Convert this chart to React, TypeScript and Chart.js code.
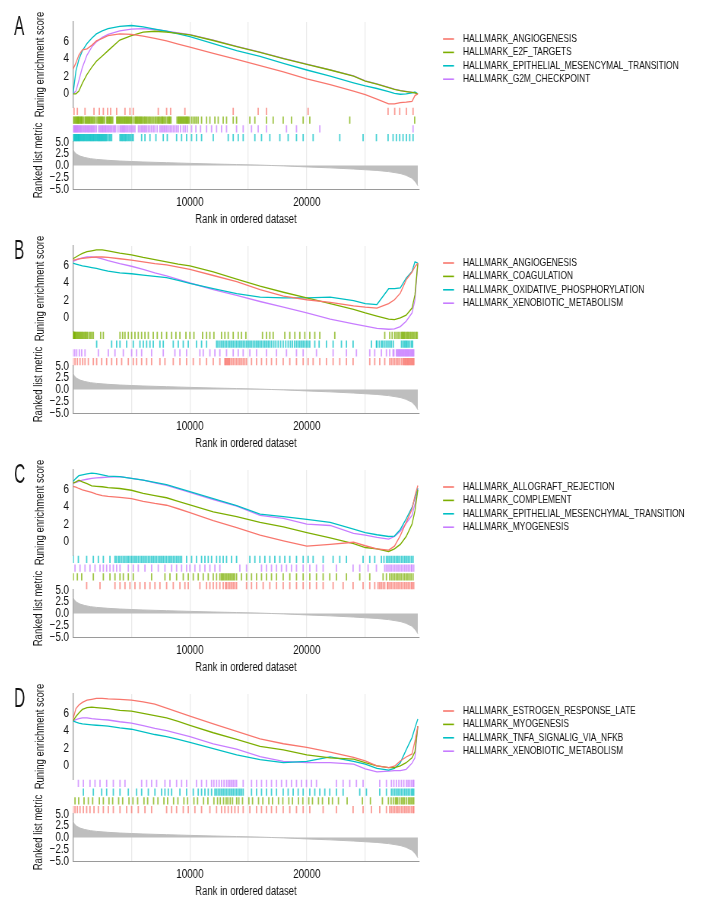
import React, { useEffect, useRef } from 'react';
import { Chart, registerables } from 'chart.js';

Chart.register(...registerables);

// The reference uses a condensed typeface; the canvas is drawn wider and shown squeezed.
const FONT = '"Liberation Sans", Arial, sans-serif';
Chart.defaults.font.family = FONT;
Chart.defaults.color = '#222';

const VIEW_W = 704;
const VIEW_H = 224;
const LOGICAL_W = 926;
const SQ = VIEW_W / LOGICAL_W;
const L = (px: number) => px / SQ; // actual px -> logical px

const RED = '#F8766D';
const GREEN = '#7CAE00';
const CYAN = '#00BFC4';
const PURPLE = '#C77CFF';

const X_MAX = 29600;
const X_GRID = [5000, 10000, 15000, 20000, 25000];
const X_TICKS = [10000, 20000];
const ES_TICKS = [0, 2, 4, 6];
const METRIC_TICKS = [5, 2.5, 0, -2.5, -5];

const ES_RANKS = [0, 250, 500, 800, 1200, 1600, 2000, 2500, 3000, 4000, 5000, 6000, 7000, 8000, 9000, 10000, 12000, 14000, 16000, 18000, 20000, 22000, 24000, 25000, 26000, 27000, 27500, 28000, 28500, 29000, 29250, 29500];

const METRIC_RANKS = [0, 100, 300, 600, 1000, 1500, 2000, 3000, 4000, 5000, 6000, 8000, 10000, 12000, 14000, 16000, 17000, 18000, 20000, 22000, 24000, 25000, 26000, 27000, 28000, 28500, 29000, 29300, 29500];
const METRIC_VALUES = [3.4, 2.9, 2.4, 2.0, 1.7, 1.45, 1.3, 1.1, 0.95, 0.85, 0.75, 0.6, 0.45, 0.32, 0.2, 0.08, 0.0, -0.08, -0.3, -0.5, -0.75, -0.9, -1.05, -1.3, -1.7, -2.1, -2.7, -3.5, -4.3];

// ---------- Panel A ----------
const A_NAMES = ['HALLMARK_ANGIOGENESIS', 'HALLMARK_E2F_TARGETS', 'HALLMARK_EPITHELIAL_MESENCYMAL_TRANSITION', 'HALLMARK_G2M_CHECKPOINT'];
const A_ES_1 = [2.8, 3.5, 4.4, 5.0, 5.1, 5.5, 6.0, 6.3, 6.6, 6.8, 6.75, 6.55, 6.3, 6.0, 5.65, 5.3, 4.6, 3.9, 3.2, 2.5, 1.7, 1.05, 0.3, -0.1, -0.6, -1.15, -1.15, -1.0, -0.95, -0.85, -0.2, 0.0];
const A_ES_2 = [0, 0, 0.3, 1.2, 2.2, 3.0, 3.7, 4.3, 4.9, 6.1, 6.6, 7.0, 7.1, 7.0, 6.85, 6.7, 6.05, 5.35, 4.7, 4.0, 3.35, 2.7, 2.0, 1.45, 1.1, 0.7, 0.5, 0.35, 0.25, 0.15, 0.1, 0];
const A_ES_3 = [0, 2.6, 3.9, 4.9, 5.7, 6.3, 6.8, 7.15, 7.4, 7.65, 7.75, 7.6, 7.35, 7.1, 6.8, 6.5, 5.7, 4.9, 4.25, 3.45, 2.7, 2.0, 1.25, 0.9, 0.6, 0.25, 0.05, -0.05, 0, 0.1, 0.2, 0];
const A_ES_4 = [0, 0.3, 1.5, 3.0, 4.4, 5.3, 5.9, 6.4, 6.75, 7.15, 7.35, 7.4, 7.3, 7.1, 6.9, 6.72, 6.08, 5.38, 4.72, 4.03, 3.38, 2.72, 2.03, 1.47, 1.12, 0.72, 0.52, 0.37, 0.27, 0.17, 0.1, 0];
const A_HITS_1 = [86, 371, 1026, 1795, 2251, 2593, 2964, 3220, 3733, 4445, 4872, 5157, 7293, 8006, 8348, 9573, 13704, 15840, 16553, 20114, 26952, 27522, 27949, 28519, 29089];
const A_HITS_2 = [86, 171, 314, 428, 542, 684, 798, 1026, 1169, 1311, 1453, 1624, 1795, 2166, 2308, 2451, 2593, 2878, 3020, 3163, 3305, 3733, 3875, 4018, 4160, 4302, 4445, 4587, 4730, 4872, 5015, 5300, 5442, 5584, 5727, 5869, 6069, 6240, 6439, 6639, 6867, 7208, 7379, 7579, 7721, 7921, 8149, 8291, 9003, 9146, 9288, 9431, 9573, 9716, 9858, 10143, 10428, 10713, 10998, 11425, 11710, 12137, 12422, 12849, 13134, 13704, 13989, 15129, 15556, 16553, 17123, 17978, 18690, 19687, 20257, 23676, 29231,
  40, 250, 370, 480, 620, 740, 900, 1100, 1240, 1380, 1540, 1700, 1900, 2050, 2230, 2380, 2520, 2700, 2950, 3100, 3240, 3400, 3800, 3950, 4090, 4230, 4380, 4520, 4660, 4800, 4950, 5150, 5370, 5510, 5660, 5800, 5960, 6150, 6330, 6540, 6750, 7000, 7100, 7300, 7480, 7650, 7820, 8050, 8220, 8380, 8900, 9070, 9220, 9360, 9500, 9650, 9790, 9950, 10280, 10560];
const A_HITS_3 = [29, 143, 257, 371, 485, 599, 741, 884, 1026, 1169, 1311, 1453, 1596, 1738, 1881, 2023, 2166, 2308, 2451, 2593, 2735, 2878, 3106, 3305, 4018, 4188, 4359, 4530, 4730, 4929, 5157, 5869, 6154, 6582, 7094, 7721, 8063, 8861, 9288, 9716, 10143, 10570, 10998, 11995, 13277, 13704, 14131, 14559, 15556, 16126, 16838, 17693, 18405, 19117, 19687, 20542, 22821, 24815, 25955, 26952, 27380, 27665, 27949, 28234, 28519, 28804, 29089,
  80, 200, 310, 430, 540, 660, 800, 950, 1100, 1240, 1380, 1520, 1660, 1800, 1950, 2100, 2240, 2380, 2520, 2660, 2800, 2990, 3200, 4100, 4270, 4450, 4630, 4830, 5050];
const A_HITS_4 = [29, 143, 257, 371, 513, 656, 827, 998, 1169, 1339, 1510, 1681, 1881, 2308, 2479, 2650, 2821, 3020, 3220, 3448, 3647, 4018, 4217, 4388, 4587, 4815, 5043, 5300, 5727, 5955, 6183, 6439, 6724, 7009, 7436, 7664, 7892, 8149, 8434, 8718, 9003, 9431, 9772, 10143, 10513, 10912, 11425, 11852, 12280, 12707, 13134, 13989, 14559, 15271, 15841, 16553, 18263, 19117, 21112, 29089,
  80, 200, 320, 440, 580, 720, 900, 1080, 1250, 1420, 1600, 1780, 2000, 2200, 2400, 2560, 2740, 2920, 3120, 3330, 3550, 3850, 4120, 4300, 4480, 4700, 4930, 5170, 5600, 5850, 6080, 6300, 6580, 6880, 7200, 7550, 7780, 8020, 8300, 8580, 8860, 9200, 9600];
const A_RUG_ORDER = [0, 1, 3, 2];

// ---------- Panel B ----------
const B_NAMES = ['HALLMARK_ANGIOGENESIS', 'HALLMARK_COAGULATION', 'HALLMARK_OXIDATIVE_PHOSPHORYLATION', 'HALLMARK_XENOBIOTIC_METABOLISM'];
const B_ES_1 = [6.55, 6.6, 6.7, 6.75, 6.8, 6.85, 6.9, 6.9, 6.85, 6.7, 6.55, 6.35, 6.15, 6.0, 5.75, 5.5, 4.8, 4.1, 3.2, 2.45, 2.05, 1.75, 1.35, 1.2, 1.1, 1.6, 2.05, 2.8, 4.3, 5.2, 5.8, 6.2];
const B_ES_2 = [6.7, 6.9, 7.1, 7.3, 7.5, 7.6, 7.7, 7.7, 7.6, 7.35, 7.15, 6.85, 6.6, 6.35, 6.1, 5.9, 5.2, 4.4, 3.6, 2.9, 2.25, 1.6, 0.95, 0.55, 0.2, -0.15, -0.2, 0.0, 0.3, 1.1, 2.6, 6.2];
const B_ES_3 = [6.2, 6.1, 6.0, 5.9, 5.8, 5.7, 5.6, 5.45, 5.3, 5.1, 5.0, 4.85, 4.7, 4.55, 4.25, 3.9, 3.3, 2.75, 2.35, 2.25, 2.25, 2.35, 1.95, 1.6, 1.5, 3.3, 3.3, 3.4, 4.5, 5.25, 6.35, 6.2];
const B_ES_4 = [6.4, 6.55, 6.7, 6.8, 6.9, 6.9, 6.85, 6.7, 6.5, 6.15, 5.85, 5.5, 5.1, 4.75, 4.35, 3.95, 3.2, 2.55, 1.85, 1.2, 0.55, -0.15, -0.7, -0.95, -1.2, -1.3, -1.25, -1.0, -0.4, 0.55, 2.0, 6.2];
const B_HITS_1 = [0, 171, 371, 599, 827, 1026, 1311, 1738, 2023, 2451, 2878, 3305, 3733, 4160, 4730, 5157, 5442, 5869, 6297, 6724, 7436, 7864, 8576, 9146, 9716, 10285, 10855, 11425, 11995, 12565, 12992, 13134, 13277, 13419, 13704, 13989, 14274, 14559, 14844, 15271, 15698, 16126, 16553, 16980, 17408, 17978, 18547, 19117, 19687, 20114, 20542, 21112, 21681, 22251, 22821, 23391, 23961, 25385, 25812, 26240, 26667, 27094, 27380, 27665, 27949, 28234, 28377, 28519, 28662, 28804, 28947, 29089,
  13050, 13200, 13350, 13560, 13850, 14130, 14420, 14700, 27240, 27520, 27800, 28100, 28300, 28450, 28600, 28730, 28880, 29020, 29160];
const B_HITS_2 = [10, 60, 114, 228, 371, 513, 656, 827, 998, 1169, 1510, 1738, 2365, 2593, 4018, 4245, 4445, 4730, 5015, 5300, 5584, 5869, 6154, 6439, 6867, 7208, 7579, 8006, 8434, 8804, 9146, 9659, 10000, 10342, 11083, 11425, 11710, 12052, 12707, 12992, 13277, 13704, 14131, 14416, 14787, 16211, 16553, 16838, 17123, 18120, 18547, 18975, 19402, 19829, 20257, 20684, 21112, 22394, 26667, 27094, 27522, 27807, 28092, 28234, 28377, 28576, 28747, 28947, 29146, 29374,
  30, 90, 170, 290, 440, 590, 740, 900, 1080, 1250, 1400, 1620, 27300, 27650, 27950, 28160, 28300, 28480, 28660, 28850, 29050, 29250, 29450];
const B_HITS_3 = [2023, 3305, 3733, 4018, 4587, 5157, 5727, 6012, 6297, 6582, 6867, 7436, 7721, 8576, 9003, 9431, 9858, 10570, 10998, 11425, 12280, 12565, 12849, 13134, 13419, 13704, 13989, 14274, 14559, 14844, 15129, 15414, 15698, 15983, 16268, 16553, 16838, 17180, 17550, 17978, 18405, 18775, 19117, 19402, 19687, 19972, 20257, 20684, 21055, 21681, 22251, 22963, 23391, 23961, 25527, 25955, 26382, 26667, 26952, 27237, 28234, 28462, 28662, 28947,
  12400, 12700, 13000, 13280, 13560, 13850, 14130, 14420, 14700, 14990, 15270, 15560, 15840, 16120, 16410, 16700, 16990, 17350, 17760, 18200, 18600, 18950, 19260, 19550, 19830, 20110, 26000, 26200, 26500, 26800, 27100, 27400, 28100, 28350, 28550, 28800, 29050];
const B_HITS_4 = [0, 143, 314, 542, 741, 1026, 2166, 3020, 3590, 4302, 5015, 5442, 5869, 6724, 7721, 8718, 9146, 9716, 10855, 11140, 11710, 12137, 12565, 13134, 13704, 14131, 14559, 15129, 15698, 16553, 17408, 18263, 19117, 19687, 20826, 22251, 23391, 24245, 25385, 25812, 26382, 26810, 27094, 27380, 27665, 27807, 27949, 28092, 28234, 28377, 28519, 28662, 28804, 28947, 29089,
  27450, 27730, 27880, 28020, 28160, 28300, 28450, 28590, 28730, 28880, 29020, 29150];
const B_RUG_ORDER = [1, 2, 3, 0];

// ---------- Panel C ----------
const C_NAMES = ['HALLMARK_ALLOGRAFT_REJECTION', 'HALLMARK_COMPLEMENT', 'HALLMARK_EPITHELIAL_MESENCHYMAL_TRANSITION', 'HALLMARK_MYOGENESIS'];
const C_ES_1 = [6.3, 6.2, 6.05, 5.9, 5.75, 5.6, 5.4, 5.25, 5.15, 5.05, 4.9, 4.6, 4.35, 4.15, 3.75, 3.3, 2.4, 1.6, 0.75, 0.1, -0.5, -0.3, -0.05, -0.45, -0.8, -0.95, -0.5, 0.7, 2.2, 3.7, 5.2, 6.4];
const C_ES_2 = [6.65, 6.8, 7.0, 6.8, 6.6, 6.35, 6.3, 6.25, 6.15, 6.05, 5.85, 5.5, 5.25, 5.0, 4.6, 4.2, 3.4, 2.85, 2.2, 1.7, 1.05, 0.45, -0.2, -0.65, -0.8, -1.1, -0.8, -0.3, 0.6, 2.0, 3.5, 5.9];
const C_ES_3 = [6.85, 7.2, 7.5, 7.6, 7.7, 7.8, 7.75, 7.6, 7.45, 7.4, 7.2, 7.0, 6.75, 6.5, 6.1, 5.7, 4.9, 4.1, 3.15, 2.85, 2.55, 2.2, 1.45, 1.05, 0.8, 0.6, 0.65, 1.4, 2.6, 3.9, 5.0, 6.1];
const C_ES_4 = [6.65, 6.75, 6.85, 7.0, 7.1, 7.2, 7.25, 7.3, 7.35, 7.4, 7.2, 7.0, 6.7, 6.4, 6.0, 5.6, 4.8, 4.05, 3.0, 2.65, 2.0, 1.85, 0.95, 0.75, 0.5, 0.3, 0.6, 1.2, 2.1, 3.0, 4.3, 6.0];
const C_HITS_1 = [1169, 2308, 3590, 4018, 4445, 4872, 5300, 5727, 6154, 6582, 7009, 7436, 8006, 8576, 9146, 9573, 9858, 10855, 11425, 11710, 11995, 12280, 12565, 12849, 13134, 13419, 13704, 13989, 14844, 15271, 15698, 16268, 16838, 17408, 17978, 18547, 19117, 19687, 20257, 20826, 21396, 22251, 23106, 23961, 24815, 25385, 25812, 26097, 26382, 26667, 26952, 27237, 27522, 27807, 28092, 28377, 28662, 28947, 29146,
  13060, 13280, 13560, 13840, 26240, 26530, 26900, 27100, 27380, 27660, 27950, 28230, 28520, 28800, 29020];
const C_HITS_2 = [29, 371, 741, 1738, 2593, 3163, 3590, 4018, 4302, 4730, 5157, 6724, 7864, 8291, 8861, 9431, 9858, 10285, 10713, 11140, 11568, 11995, 12280, 12565, 12792, 13020, 13248, 13476, 13704, 13989, 14416, 14844, 15271, 15698, 16126, 16553, 16980, 17408, 17978, 18547, 19117, 19687, 20257, 20826, 21396, 21966, 22536, 23391, 24530, 25385, 26525, 26810, 27094, 27380, 27665, 27949, 28234, 28519, 28804, 29089,
  12700, 12900, 13130, 13360, 13590, 13820, 27250, 27520, 27800, 28080, 28370, 28650, 28930];
const C_HITS_3 = [29, 456, 1169, 1738, 2166, 2593, 3163, 3590, 3875, 4160, 4445, 4730, 5015, 5300, 5584, 5869, 6154, 6439, 6724, 7009, 7294, 7579, 7864, 8149, 8434, 8718, 9003, 9288, 9716, 10143, 10570, 10998, 11284, 11568, 11853, 12280, 12565, 12849, 13134, 13562, 13989, 15129, 15556, 15983, 16411, 16838, 17265, 17693, 18120, 18547, 19117, 19687, 20114, 20542, 21396, 22251, 22821, 23391, 24815, 25385, 25812, 26382, 26810, 27094, 27380, 27665, 27949, 28234, 28519, 28804, 29089,
  3700, 4000, 4300, 4600, 4870, 5150, 5440, 5730, 6010, 6300, 6580, 6870, 7150, 7440, 7720, 8000, 8290, 8580, 8860, 9150, 26600, 26950, 27240, 27520, 27800, 28100, 28380, 28660, 28950];
const C_HITS_4 = [171, 599, 1026, 1453, 1881, 2308, 2593, 2878, 3163, 3448, 3733, 4018, 4730, 5157, 5584, 6154, 6724, 7294, 7864, 8434, 8861, 9288, 9716, 10000, 10428, 10855, 11284, 11710, 12137, 12565, 14274, 14844, 16126, 16553, 16980, 17408, 17836, 18263, 18690, 19117, 19687, 20257, 20826, 21396, 22536, 23961, 24530, 25242, 25955, 26667, 26952, 27237, 27522, 27807, 28092, 28377, 28662, 28947, 29146,
  26800, 27100, 27380, 27660, 27950, 28230, 28520, 28800, 29000];
const C_RUG_ORDER = [2, 3, 1, 0];

// ---------- Panel D ----------
const D_NAMES = ['HALLMARK_ESTROGEN_RESPONSE_LATE', 'HALLMARK_MYOGENESIS', 'HALLMARK_TNFA_SIGNALIG_VIA_NFKB', 'HALLMARK_XENOBIOTIC_METABOLISM'];
const D_ES_1 = [5.3, 6.5, 6.9, 7.2, 7.45, 7.55, 7.65, 7.65, 7.6, 7.55, 7.45, 7.25, 7.0, 6.55, 6.1, 5.65, 4.75, 3.9, 3.05, 2.5, 2.1, 1.55, 0.95, 0.55, 0.0, -0.2, -0.05, 0.55, 1.0, 1.35, 2.8, 4.5];
const D_ES_2 = [5.1, 5.6, 6.0, 6.4, 6.6, 6.65, 6.6, 6.55, 6.5, 6.3, 6.2, 5.95, 5.7, 5.45, 5.05, 4.6, 3.75, 3.0, 2.2, 1.8, 1.25, 0.9, 0.75, 0.35, 0.0, -0.2, -0.2, 0.0, 0.35, 0.9, 1.6, 4.5];
const D_ES_3 = [5.1, 4.95, 4.85, 4.75, 4.7, 4.65, 4.6, 4.55, 4.5, 4.3, 4.15, 3.85, 3.55, 3.3, 3.0, 2.65, 1.95, 1.25, 0.7, 0.35, 0.5, 1.0, 0.5, 0.2, -0.3, -0.5, -0.3, 0.35, 1.8, 3.2, 4.3, 5.3];
const D_ES_4 = [5.1, 5.25, 5.35, 5.45, 5.45, 5.35, 5.3, 5.25, 5.2, 5.0, 4.85, 4.55, 4.25, 4.0, 3.65, 3.3, 2.5, 1.9, 1.05, 0.5, 0.35, 0.35, 0.2, -0.35, -0.7, -0.6, -0.55, -0.55, -0.4, 0.3, 0.9, 4.5];
const D_HITS_1 = [0, 171, 371, 599, 884, 1169, 1453, 1795, 2166, 2593, 3020, 3448, 4018, 4587, 5015, 5584, 6154, 6724, 8006, 8434, 8861, 9431, 9858, 10428, 10998, 11710, 12280, 12707, 12992, 13277, 13562, 13847, 14131, 14559, 15129, 15698, 16126, 16553, 16980, 17408, 17978, 18547, 19117, 19687, 20257, 21396, 22536, 23961, 24815, 25527, 26240, 26810, 27094, 27380, 27665, 27949, 28234, 28519, 28804, 29089,
  27240, 27520, 27800, 28100, 28380, 28660, 28950, 29150];
const D_HITS_2 = [171, 485, 941, 1311, 1681, 2251, 2593, 3077, 3391, 3904, 4245, 4787, 5129, 5528, 6069, 6382, 6895, 7265, 7778, 8092, 8604, 8975, 9488, 9801, 10342, 10656, 11168, 11539, 12052, 12365, 12878, 13248, 13647, 14188, 14502, 15043, 15357, 15869, 16240, 16753, 17066, 17579, 17949, 18462, 18775, 19288, 19658, 20171, 20485, 20998, 21339, 21881, 22194, 22707, 23448, 24758, 25442, 26468, 26980, 27208, 27579, 27778, 28120, 28348, 28690, 28918, 29146,
  12600, 13100, 13450, 14000, 27400, 27680, 27960, 28240, 28520, 28800, 29050];
const D_HITS_3 = [884, 1738, 2451, 2878, 3448, 4018, 4730, 5442, 5869, 6439, 7009, 7579, 7864, 8149, 8434, 9146, 9716, 10285, 10713, 10998, 11284, 11568, 11853, 12280, 12565, 12849, 13134, 13419, 13704, 13989, 14274, 14559, 15271, 15698, 16126, 16553, 16980, 17408, 17978, 18405, 18833, 19260, 19687, 20257, 20684, 21112, 21539, 21966, 22536, 23106, 24530, 25100, 26240, 26810, 27237, 27522, 27807, 28092, 28377, 28662, 28947, 29146,
  12140, 12420, 12700, 12990, 13270, 13560, 13850, 14130, 14420, 27370, 27660, 27950, 28230, 28520, 28800, 29050];
const D_HITS_4 = [456, 884, 1453, 1881, 2308, 2878, 3448, 4018, 4445, 5869, 6297, 6724, 7151, 7864, 8291, 8861, 9288, 9716, 10570, 10998, 11425, 11853, 12280, 12707, 13134, 13419, 13704, 13989, 14559, 15271, 15698, 16126, 16553, 16980, 17408, 17836, 18263, 18690, 19117, 19545, 19972, 20400, 20826, 22536, 23106, 23676, 24245, 24815, 26240, 26810, 27237, 27665, 28092, 28519, 28804, 29089,
  12050, 12500, 12920, 13280, 13560, 13850, 27450, 27880, 28300, 28660, 28950, 29150];
const D_RUG_ORDER = [3, 2, 1, 0];

const COLORS = [RED, GREEN, CYAN, PURPLE];

type Series = { name: string; color: string; es: number[]; hits: number[] };
type Panel = { letter: string; series: Series[]; rugOrder: number[] };

function makeSeries(names: string[], es: number[][], hits: number[][]): Series[] {
  return names.map((name, i) => ({ name, color: COLORS[i], es: es[i], hits: hits[i] }));
}

const PANELS: Panel[] = [
  { letter: 'A', series: makeSeries(A_NAMES, [A_ES_1, A_ES_2, A_ES_3, A_ES_4], [A_HITS_1, A_HITS_2, A_HITS_3, A_HITS_4]), rugOrder: A_RUG_ORDER },
  { letter: 'B', series: makeSeries(B_NAMES, [B_ES_1, B_ES_2, B_ES_3, B_ES_4], [B_HITS_1, B_HITS_2, B_HITS_3, B_HITS_4]), rugOrder: B_RUG_ORDER },
  { letter: 'C', series: makeSeries(C_NAMES, [C_ES_1, C_ES_2, C_ES_3, C_ES_4], [C_HITS_1, C_HITS_2, C_HITS_3, C_HITS_4]), rugOrder: C_RUG_ORDER },
  { letter: 'D', series: makeSeries(D_NAMES, [D_ES_1, D_ES_2, D_ES_3, D_ES_4], [D_HITS_1, D_HITS_2, D_HITS_3, D_HITS_4]), rugOrder: D_RUG_ORDER },
];

function rgba(hex: string, a: number) {
  const n = parseInt(hex.slice(1), 16);
  return `rgba(${(n >> 16) & 255},${(n >> 8) & 255},${n & 255},${a})`;
}

// rotated axis title, compressed along its baseline like the condensed horizontal text
function drawVTitle(ctx: CanvasRenderingContext2D, text: string, cx: number, cy: number) {
  ctx.save();
  ctx.translate(cx, cy);
  ctx.scale(1 / SQ, 1);
  ctx.rotate(-Math.PI / 2);
  ctx.scale(SQ, 1);
  ctx.font = `12.5px ${FONT}`;
  ctx.fillStyle = '#111';
  ctx.textAlign = 'center';
  ctx.textBaseline = 'middle';
  ctx.fillText(text, 0, 0);
  ctx.restore();
}

const gseaDecor = {
  id: 'gseaDecor',
  afterDraw(chart: any, _args: any, opts: any) {
    const ctx = chart.ctx as CanvasRenderingContext2D;
    ctx.save();
    // panel letter
    ctx.save();
    ctx.translate(L(6), 5);
    ctx.scale(0.72, 1);
    ctx.fillStyle = '#111';
    ctx.font = `28px ${FONT}`;
    ctx.textBaseline = 'top';
    ctx.textAlign = 'left';
    ctx.fillText(opts.letter, 0, 0);
    ctx.restore();
    // axis titles
    const es = chart.scales.yES;
    const met = chart.scales.yMet;
    drawVTitle(ctx, 'Runing enrichment score', L(32), (es.top + es.bottom) / 2);
    drawVTitle(ctx, 'Ranked list metric', L(31), (met.top + met.bottom) / 2 - 5);
    // legend
    const items = opts.items as { label: string; color: string }[];
    ctx.font = `11px ${FONT}`;
    ctx.textBaseline = 'middle';
    ctx.textAlign = 'left';
    items.forEach((it, i) => {
      const y = 31 + i * 13.4;
      ctx.strokeStyle = it.color;
      ctx.lineWidth = 1.6;
      ctx.beginPath();
      ctx.moveTo(L(435), y);
      ctx.lineTo(L(446), y);
      ctx.stroke();
      ctx.fillStyle = '#111';
      ctx.fillText(it.label, L(455), y);
    });
    ctx.restore();
  },
};

const AXIS_W = L(65);

function GseaPanel({ panel }: { panel: Panel }) {
  const ref = useRef<HTMLCanvasElement>(null);
  useEffect(() => {
    const datasets: any[] = [];
    panel.series.forEach((s) => {
      datasets.push({
        type: 'line',
        label: s.name,
        data: ES_RANKS.map((r, i) => ({ x: r, y: s.es[i] })),
        xAxisID: 'x',
        yAxisID: 'yES',
        borderColor: s.color,
        borderWidth: 1.3,
        pointRadius: 0,
        fill: false,
        tension: 0,
      });
    });
    panel.rugOrder.forEach((idx, row) => {
      const s = panel.series[idx];
      datasets.push({
        type: 'line',
        label: s.name + ' hits',
        data: s.hits.map((r) => ({ x: r, y: 3.5 - row })),
        xAxisID: 'x',
        yAxisID: 'yRug',
        showLine: false,
        pointStyle: 'line',
        pointRadius: 3.7,
        pointRotation: 90,
        pointBorderWidth: 1.8,
        pointBorderColor: rgba(s.color, 0.72),
        pointBackgroundColor: rgba(s.color, 0.72),
        borderColor: rgba(s.color, 0.72),
      });
    });
    datasets.push({
      type: 'line',
      label: 'metric',
      data: METRIC_RANKS.map((r, i) => ({ x: r, y: METRIC_VALUES[i] })),
      xAxisID: 'x',
      yAxisID: 'yMet',
      borderColor: '#BEBEBE',
      backgroundColor: '#BEBEBE',
      borderWidth: 1,
      pointRadius: 0,
      fill: 'origin',
    });

    const fixW = (s: any) => { s.width = AXIS_W; };
    const chart = new Chart(ref.current!, {
      type: 'line',
      data: { datasets },
      plugins: [gseaDecor],
      options: {
        responsive: false,
        devicePixelRatio: 1,
        animation: false,
        events: [],
        layout: { padding: { top: 14, right: LOGICAL_W - L(411), bottom: 0, left: 0 } },
        plugins: {
          legend: { display: false },
          tooltip: { enabled: false },
          gseaDecor: { letter: panel.letter, items: panel.series.map((s) => ({ label: s.name, color: s.color })) },
        } as any,
        scales: {
          x: {
            type: 'linear',
            position: 'bottom',
            min: 0,
            max: X_MAX,
            afterBuildTicks: (s: any) => { s.ticks = X_GRID.map((v) => ({ value: v })); },
            afterFit: (s: any) => { s.height = 43; },
            grid: { color: '#EAEAEA', lineWidth: 1.3, drawTicks: false },
            border: { display: true, color: '#9A9A9A', width: 1 },
            ticks: {
              padding: 6,
              autoSkip: false,
              maxRotation: 0,
              color: '#111',
              font: { size: 13 },
              callback: (v: any) => (X_TICKS.includes(Number(v)) ? String(v) : ''),
            },
            title: { display: true, text: 'Rank in ordered dataset', color: '#111', font: { size: 12.5 }, padding: { top: 0, bottom: 5 } },
          },
          yES: {
            type: 'linear',
            position: 'left',
            stack: 'gsea',
            stackWeight: 85,
            weight: 3,
            min: -1.5,
            max: 8.15,
            afterBuildTicks: (s: any) => { s.ticks = ES_TICKS.map((v) => ({ value: v })); },
            afterFit: fixW,
            grid: { display: false, drawTicks: false },
            border: { display: true, color: '#9A9A9A', width: 1.3 },
            ticks: { padding: L(4), autoSkip: false, color: '#111', font: { size: 13 }, callback: (v: any) => String(v) },
          },
          yRug: {
            type: 'linear',
            position: 'left',
            stack: 'gsea',
            stackWeight: 35,
            weight: 2,
            min: 0,
            max: 4,
            afterFit: fixW,
            grid: { display: false, drawTicks: false },
            border: { display: false },
            ticks: { display: false },
          },
          yMet: {
            type: 'linear',
            position: 'left',
            stack: 'gsea',
            stackWeight: 47,
            weight: 1,
            min: -5,
            max: 5,
            afterBuildTicks: (s: any) => { s.ticks = METRIC_TICKS.map((v) => ({ value: v })); },
            afterFit: fixW,
            grid: { display: false, drawTicks: false },
            border: { display: true, color: '#9A9A9A', width: 1.3 },
            ticks: {
              padding: L(4),
              autoSkip: false,
              color: '#111',
              font: { size: 13 },
              callback: (v: any) => (Number(v) < 0 ? '\u2212' + Math.abs(Number(v)).toFixed(1) : Number(v).toFixed(1)),
            },
          },
        } as any,
      },
    });
    return () => chart.destroy();
  }, [panel]);
  return <canvas ref={ref} width={LOGICAL_W} height={VIEW_H} style={{ display: 'block', width: VIEW_W, height: VIEW_H }} />;
}

export default function App() {
  return (
    <div style={{ width: VIEW_W }}>
      {PANELS.map((p) => (
        <GseaPanel key={p.letter} panel={p} />
      ))}
    </div>
  );
}
